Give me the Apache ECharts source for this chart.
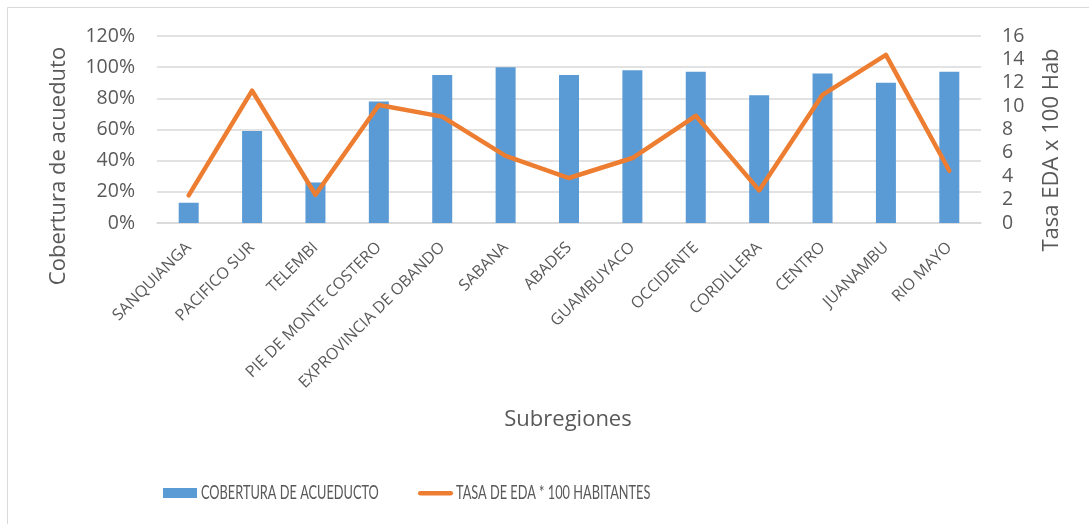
<!DOCTYPE html>
<html>
<head>
<meta charset="utf-8">
<script src="https://cdn.jsdelivr.net/npm/echarts@6/dist/echarts.min.js"></script>
<style>
  html, body { margin: 0; padding: 0; background: #fff; }
  #chart { width: 1089px; height: 524px; }
</style>
</head>
<body>
<div id="chart"></div>
<script>
// Subregions and their indicators
const subregiones = ['SANQUIANGA', 'PACIFICO SUR', 'TELEMBI', 'PIE DE MONTE COSTERO',
  'EXPROVINCIA DE OBANDO', 'SABANA', 'ABADES', 'GUAMBUYACO', 'OCCIDENTE',
  'CORDILLERA', 'CENTRO', 'JUANAMBU', 'RIO MAYO'];
// Water supply coverage (fraction of 1)
const coberturaAcueducto = [0.13, 0.59, 0.26, 0.78, 0.95, 1.00, 0.95, 0.98, 0.97, 0.82, 0.96, 0.90, 0.97];
// Acute diarrheal disease rate per 100 inhabitants
const tasaEDA = [2.36, 11.33, 2.42, 10.1, 9.1, 5.75, 3.85, 5.56, 9.17, 2.79, 10.97, 14.38, 4.47];

const serieBarras = 'COBERTURA DE ACUEDUCTO';
const serieLinea = 'TASA DE EDA * 100 HABITANTES';

const coberturaTicks = { min: 0, max: 1.2, interval: 0.2 };
const tasaTicks = { min: 0, max: 16, interval: 2 };

const textColor = '#595959';
const gridColor = '#D9D9D9';
const barColor = '#5B9BD5';
const lineColor = '#ED7D31';
const baseFont = '"Open Sans", "Liberation Sans", sans-serif';
const legendFont = 'Lato, "Open Sans", sans-serif';

const chart = echarts.init(document.getElementById('chart'), null, { renderer: 'canvas' });

// Condensed legend text (narrow caps), drawn as graphic elements
function legendText(text, x) {
  return {
    type: 'text',
    x: x, y: 493,
    scaleX: 0.655,
    style: {
      text: text,
      fontFamily: legendFont, fontSize: 19.5, fill: textColor,
      textAlign: 'left', textVerticalAlign: 'middle'
    }
  };
}

chart.setOption({
  animation: false,
  backgroundColor: '#fff',
  textStyle: { fontFamily: baseFont, color: textColor },
  grid: { left: 157, right: 108, top: 36, bottom: 301, containLabel: false },
  legend: { show: false, data: [serieBarras, serieLinea] },
  xAxis: {
    type: 'category',
    data: subregiones,
    boundaryGap: true,
    axisLine: { show: true, lineStyle: { color: gridColor, width: 1.5 } },
    axisTick: { show: false },
    axisLabel: {
      rotate: 45,
      interval: 0,
      margin: 22,
      fontSize: 16,
      fontFamily: baseFont,
      color: textColor
    }
  },
  yAxis: [
    {
      type: 'value',
      min: coberturaTicks.min,
      max: coberturaTicks.max,
      interval: coberturaTicks.interval,
      axisLine: { show: false },
      axisTick: { show: false },
      splitLine: { show: true, lineStyle: { color: gridColor, width: 1.5 } },
      axisLabel: {
        margin: 22,
        fontSize: 19.5,
        color: textColor,
        formatter: v => Math.round(v * 100) + '%'
      }
    },
    {
      type: 'value',
      min: tasaTicks.min,
      max: tasaTicks.max,
      interval: tasaTicks.interval,
      axisLine: { show: false },
      axisTick: { show: false },
      splitLine: { show: false },
      axisLabel: { margin: 21, fontSize: 19.5, color: textColor }
    }
  ],
  series: [
    {
      name: serieBarras,
      type: 'bar',
      yAxisIndex: 0,
      data: coberturaAcueducto,
      barWidth: 20,
      itemStyle: { color: barColor }
    },
    {
      name: serieLinea,
      type: 'line',
      yAxisIndex: 1,
      data: tasaEDA,
      symbol: 'none',
      showSymbol: false,
      lineStyle: { color: lineColor, width: 4.5, cap: 'round', join: 'round' },
      itemStyle: { color: lineColor }
    }
  ],
  graphic: [
    {
      type: 'rect',
      silent: true,
      shape: { x: 7.5, y: 7.5, width: 1200, height: 700 },
      style: { fill: 'none', stroke: gridColor, lineWidth: 1 }
    },
    {
      type: 'text',
      x: 59, y: 166,
      rotation: Math.PI / 2,
      style: {
        text: 'Cobertura de acueduto',
        fontFamily: baseFont, fontSize: 22, fill: textColor,
        textAlign: 'center', textVerticalAlign: 'middle'
      }
    },
    {
      type: 'text',
      x: 1052, y: 150,
      rotation: Math.PI / 2,
      style: {
        text: 'Tasa EDA x 100 Hab',
        fontFamily: baseFont, fontSize: 22, fill: textColor,
        textAlign: 'center', textVerticalAlign: 'middle'
      }
    },
    {
      type: 'text',
      x: 568, y: 420,
      style: {
        text: 'Subregiones',
        fontFamily: baseFont, fontSize: 22, fill: textColor,
        textAlign: 'center', textVerticalAlign: 'middle'
      }
    },
    // legend
    {
      type: 'rect',
      shape: { x: 163, y: 488, width: 34, height: 10 },
      style: { fill: barColor }
    },
    legendText(serieBarras, 201),
    {
      type: 'rect',
      shape: { x: 418, y: 491, width: 35, height: 4.5, r: 2.25 },
      style: { fill: lineColor }
    },
    legendText(serieLinea, 456)
  ]
});
</script>
</body>
</html>
